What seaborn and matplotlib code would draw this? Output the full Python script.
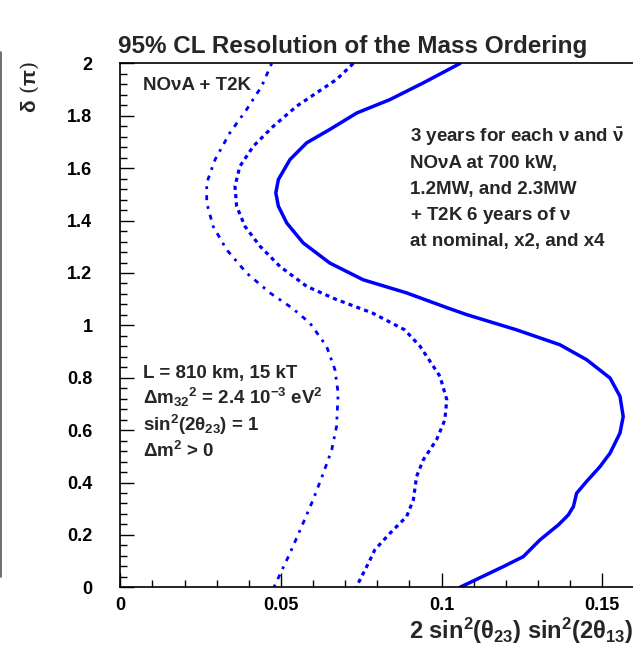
import numpy as np
import pandas as pd
import matplotlib
matplotlib.use("Agg")
import matplotlib.pyplot as plt
from matplotlib.ticker import MultipleLocator
import seaborn as sns

# ========== data ==========
# delta (in units of pi) vs 2 sin^2(th23) sin^2(2 th13), 95% CL contours
delta_solid = [2.0, 1.926, 1.862, 1.811, 1.748, 1.697, 1.633, 1.557, 1.506, 1.455,
               1.391, 1.315, 1.238, 1.174, 1.124, 1.066, 1.041, 0.983, 0.926,
               0.869, 0.799, 0.729, 0.652, 0.589, 0.512, 0.461, 0.404, 0.359,
               0.308, 0.276, 0.238, 0.181, 0.117, 0.079, 0.0]
x_solid = [0.1057, 0.0943, 0.0839, 0.0736, 0.0652, 0.0580, 0.0528, 0.0492,
           0.0484, 0.0492, 0.0518, 0.0569, 0.0652, 0.0756, 0.0891, 0.1020,
           0.1078, 0.1233, 0.1368, 0.1451, 0.1524, 0.1555, 0.1565, 0.1555,
           0.1524, 0.1493, 0.1451, 0.1420, 0.1410, 0.1394, 0.1363, 0.1306,
           0.1254, 0.1192, 0.1057]

delta_dash = [2.0, 1.939, 1.888, 1.837, 1.760, 1.684, 1.607, 1.531, 1.455, 1.378,
              1.302, 1.225, 1.149, 1.100, 1.047, 0.983, 0.920, 0.805, 0.716,
              0.639, 0.563, 0.487, 0.423, 0.334, 0.270, 0.206, 0.143, 0.104, 0.0]
x_dash = [0.0725, 0.0673, 0.0611, 0.0549, 0.0476, 0.0414, 0.0372, 0.0357,
          0.0362, 0.0388, 0.0435, 0.0497, 0.0580, 0.0670, 0.0785, 0.0885,
          0.0933, 0.0995, 0.1016, 0.1010, 0.0984, 0.0943, 0.0922, 0.0912,
          0.0891, 0.0839, 0.0792, 0.0777, 0.0734]

delta_dot = [2.0, 1.913, 1.824, 1.735, 1.633, 1.544, 1.468, 1.378, 1.289, 1.200,
             1.124, 1.066, 1.009, 0.920, 0.831, 0.741, 0.614, 0.525, 0.436,
             0.334, 0.245, 0.130, 0.0]
x_dot = [0.0471, 0.0440, 0.0393, 0.0341, 0.0295, 0.0269, 0.0269, 0.0289,
         0.0331, 0.0393, 0.0466, 0.0535, 0.0590, 0.0642, 0.0668, 0.0678,
         0.0673, 0.0658, 0.0632, 0.0600, 0.0569, 0.0528, 0.0478]

sns.set_theme(style="ticks")
plt.rcParams['font.family'] = ['Liberation Sans', 'DejaVu Sans']
plt.rcParams['font.weight'] = 'bold'
plt.rcParams['mathtext.fontset'] = 'custom'
plt.rcParams['mathtext.rm'] = 'Liberation Sans:bold'
plt.rcParams['mathtext.it'] = 'Liberation Sans:bold'
plt.rcParams['mathtext.bf'] = 'Liberation Sans:bold'

fig = plt.figure(figsize=(6.33, 6.47), dpi=100)
ax = fig.add_axes([0.190, 0.0923, 0.8123, 0.8096])

blue = '#0000ff'
sns.lineplot(x=x_solid, y=delta_solid, sort=False, estimator=None, ax=ax,
             color=blue, lw=2.5)
sns.lineplot(x=x_dash, y=delta_dash, sort=False, estimator=None, ax=ax,
             color=blue, lw=2.3, linestyle=(0, (1.3, 1.3)))
sns.lineplot(x=x_dot, y=delta_dot, sort=False, estimator=None, ax=ax,
             color=blue, lw=2.0, linestyle=(0, (1.0, 2.2, 1.8, 2.2)))

ax.set_xlim(0, 0.16)
ax.set_ylim(0, 2)
ax.xaxis.set_major_locator(MultipleLocator(0.05))
ax.xaxis.set_minor_locator(MultipleLocator(0.01))
ax.yaxis.set_major_locator(MultipleLocator(0.2))
ax.yaxis.set_minor_locator(MultipleLocator(0.04))
ax.set_xticks([0, 0.05, 0.1, 0.15])
ax.set_xticklabels(['0', '0.05', '0.1', '0.15'])
ax.set_yticks([0, 0.2, 0.4, 0.6, 0.8, 1, 1.2, 1.4, 1.6, 1.8, 2])
ax.set_yticklabels(['0', '0.2', '0.4', '0.6', '0.8', '1', '1.2', '1.4', '1.6', '1.8', '2'])
ax.tick_params(which='both', direction='in', width=1.0, colors='black',
               labelsize=13, top=False, right=False)
ax.tick_params(which='major', length=10)
ax.tick_params(which='minor', length=5)
ax.tick_params(axis='y', which='major', pad=20)
ax.tick_params(axis='x', which='major', pad=7)
for s in ax.spines.values():
    s.set_linewidth(1.2)
    s.set_color('black')
ax.set_xlabel('')
ax.set_ylabel('')

fig.text(0.557, 0.918, '95% CL Resolution of the Mass Ordering',
         ha='center', va='baseline', fontsize=17.5, fontweight='bold')
fig.text(0.999, 0.012, r'2 sin$^{2}$($\theta_{23}$) sin$^{2}$(2$\theta_{13}$)',
         ha='right', va='baseline', fontsize=17, fontweight='bold')
fig.text(0.047, 0.905, r'$\delta$ ($\pi$)', rotation=90, ha='center', va='top',
         fontsize=15, fontweight='normal', family=['DejaVu Serif'])
fig.add_artist(plt.Line2D([0.002, 0.002], [0.108, 0.92], color='#555555', lw=1.2))

ax.text(0.044, 0.975, 'NOνA + T2K', transform=ax.transAxes, ha='left', va='top',
        fontsize=13.5, fontweight='bold')

right_lines = [r'3 years for each $\nu$ and $\bar{\nu}$', 'NOνA at 700 kW,',
               '1.2MW, and 2.3MW', r'+ T2K 6 years of $\nu$', 'at nominal, x2, and x4']
for i, t in enumerate(right_lines):
    ax.text(0.563, 1 - (142 + 26 * i - 63.5) / 523.8, t, transform=ax.transAxes,
            ha='left', va='baseline', fontsize=13.5, fontweight='bold')

left_lines = ['L = 810 km, 15 kT', r'$\Delta$m$_{32}$$^{2}$ = 2.4 10$^{-3}$ eV$^{2}$',
              r'sin$^{2}$(2$\theta_{23}$) = 1', r'$\Delta$m$^{2}$ > 0']
for i, t in enumerate(left_lines):
    ax.text(0.044, 1 - (378 + 26.5 * i - 63.5) / 523.8, t, transform=ax.transAxes,
            ha='left', va='baseline', fontsize=13.5, fontweight='bold')

fig.savefig('out.png', dpi=100)
